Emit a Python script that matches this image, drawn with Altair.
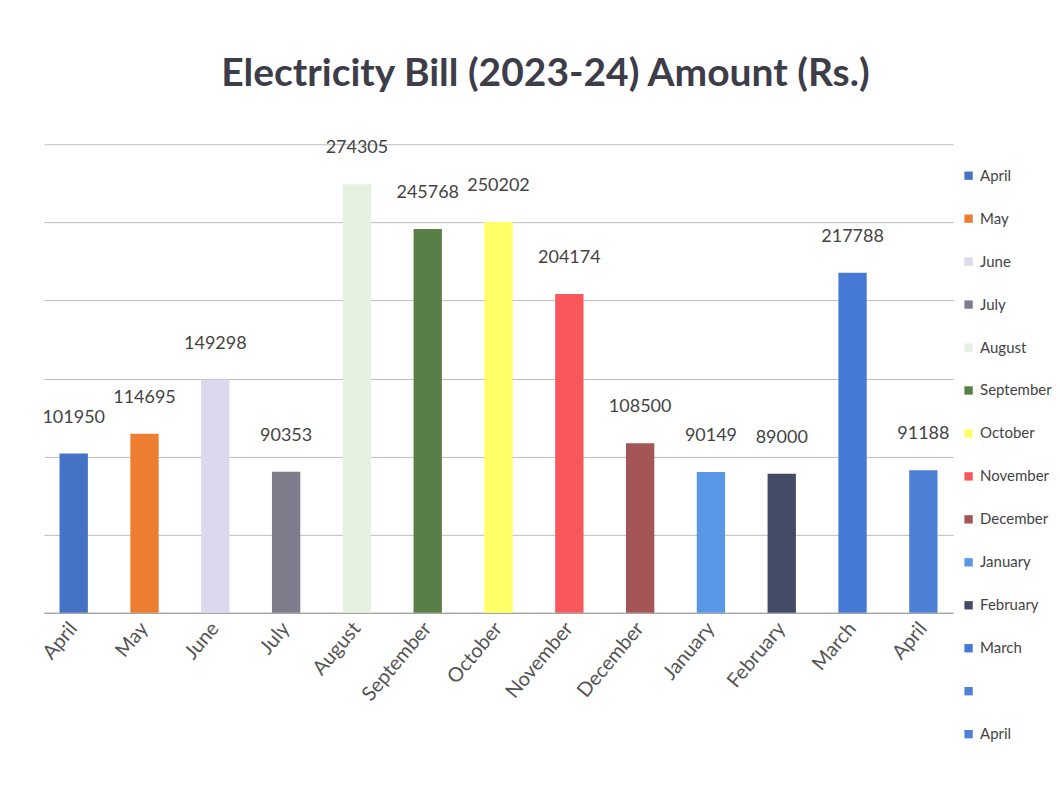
import altair as alt
import pandas as pd

months = ["April", "May", "June", "July", "August", "September", "October",
          "November", "December", "January", "February", "March", "April"]
amounts = [101950, 114695, 149298, 90353, 274305, 245768, 250202,
           204174, 108500, 90149, 89000, 217788, 91188]
colors = ["#4472C4", "#ED7D31", "#DCD8EE", "#7E7C8A", "#E4F1DE", "#5A7F46",
          "#FFFF66", "#F8585A", "#A45555", "#5898E6", "#434B66", "#4678D6",
          "#4F80D8"]
# legend of the reference shows an extra unlabeled blue entry before the last April
legend_keys = [f"{i + 1:02d}" for i in range(12)] + ["12b", "13"]
legend_labels = months[:12] + ["", "April"]
legend_colors = colors[:12] + ["#4F80D8", "#4F80D8"]

keys = [f"{i + 1:02d}" for i in range(len(months))]
df = pd.DataFrame({"key": keys, "month": months, "amount": amounts})


def js_arr(items):
    return "[" + ",".join(f"'{m}'" for m in items) + "]"


x_label_expr = f"{js_arr(months)}[toNumber(datum.value) - 1]"
legend_label_expr = f"{js_arr(legend_labels)}[indexof({js_arr(legend_keys)}, datum.value)]"
FONT = "Lato"

base = alt.Chart(df).encode(
    x=alt.X("key:N", sort=keys, title=None,
            scale=alt.Scale(paddingInner=0.6, paddingOuter=0.22),
            axis=alt.Axis(labelExpr=x_label_expr, labelAngle=-50, labelFontSize=20,
                          labelColor="#555555", labelFont=FONT, ticks=False,
                          domainColor="#9a9a9a", labelPadding=12)),
)

bars = base.mark_bar().encode(
    y=alt.Y("amount:Q", title=None,
            scale=alt.Scale(domain=[0, 300000]),
            axis=alt.Axis(values=[0, 50000, 100000, 150000, 200000, 250000, 300000],
                          labels=False, ticks=False, domain=False,
                          gridColor="#bdbdbd", gridWidth=1)),
    color=alt.Color("key:N",
                    scale=alt.Scale(domain=legend_keys, range=legend_colors),
                    legend=alt.Legend(title=None, orient="none", legendX=918, legendY=24,
                                      labelExpr=legend_label_expr, symbolType="square",
                                      symbolSize=70, symbolStrokeWidth=0,
                                      labelFontSize=15, labelFont=FONT,
                                      labelColor="#444444", rowPadding=27)),
)

labels = base.mark_text(dy=-36, fontSize=18, font=FONT, color="#444444").encode(
    y=alt.Y("amount:Q"),
    text=alt.Text("amount:Q", format="d"),
)

chart = (bars + labels).properties(
    width=910, height=469,
    padding={"left": 30, "top": 47, "right": 0, "bottom": 5},
    title=alt.TitleParams("Electricity Bill (2023-24) Amount (Rs.)", fontSize=39,
                          font=FONT, fontWeight="bold", color="#3d3d4a", offset=45,
                          anchor="middle", frame="bounds"),
).configure_view(stroke=None)

chart.save("out.html", embed_options={"renderer": "svg", "actions": False})
